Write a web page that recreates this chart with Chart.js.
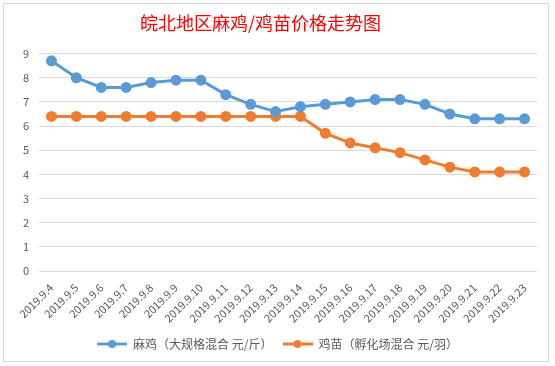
<!DOCTYPE html>
<html>
<head>
<meta charset="utf-8">
<script src="https://cdn.jsdelivr.net/npm/chart.js"></script>
<style>
  html, body { margin: 0; padding: 0; background: #ffffff; }
  #wrap { position: absolute; left: 0; top: 0; width: 555px; height: 366px; }
</style>
</head>
<body>
<div id="wrap"><canvas id="myChart" width="555" height="366"></canvas></div>
<script>
let labels = ['2019.9.4','2019.9.5','2019.9.6','2019.9.7','2019.9.8','2019.9.9','2019.9.10',
  '2019.9.11','2019.9.12','2019.9.13','2019.9.14','2019.9.15','2019.9.16','2019.9.17',
  '2019.9.18','2019.9.19','2019.9.20','2019.9.21','2019.9.22','2019.9.23'];
let maji = [8.7,8.0,7.6,7.6,7.8,7.9,7.9,7.3,6.9,6.6,6.8,6.9,7.0,7.1,7.1,6.9,6.5,6.3,6.3,6.3];
let jimiao = [6.4,6.4,6.4,6.4,6.4,6.4,6.4,6.4,6.4,6.4,6.4,5.7,5.3,5.1,4.9,4.6,4.3,4.1,4.1,4.1];
let seriesNames = ['麻鸡（大规格混合 元/斤）','鸡苗（孵化场混合 元/羽）'];
let colorHex = ['#5B9BD5','#ED7D31'];

const CJK = '"Noto Sans CJK SC", "Noto Sans", sans-serif';

// little line + dot marker for the legend
function legendMark(color) {
  let c = document.createElement('canvas');
  c.width = 30; c.height = 10;
  let g = c.getContext('2d');
  g.strokeStyle = color; g.lineWidth = 3;
  g.beginPath(); g.moveTo(0, 5); g.lineTo(30, 5); g.stroke();
  g.fillStyle = color;
  g.beginPath(); g.arc(15, 5, 4, 0, Math.PI * 2); g.fill();
  return c;
}

const frame = {
  id: 'frame',
  afterLayout(chart) {
    // title sits a bit left of centre in the original, legend a bit right
    if (chart.titleBlock) {
      chart.titleBlock.left -= 8;
      chart.titleBlock.right -= 8;
    }
    if (chart.legend) {
      chart.legend.left += 9;
      chart.legend.right += 9;
    }
  },
  beforeDraw(chart) {
    let g = chart.ctx;
    g.save();
    g.fillStyle = '#ffffff';
    g.fillRect(0, 0, chart.width, chart.height);
    g.strokeStyle = '#d9d9d9';
    g.lineWidth = 1;
    g.strokeRect(3.5, 3.5, 545, 358);
    g.restore();
  }
};

let ctx = document.getElementById('myChart').getContext('2d');
let myChart = new Chart(ctx, {
  type: 'line',
  data: {
    labels: labels,
    datasets: [
      {
        label: seriesNames[0],
        data: maji,
        borderColor: colorHex[0],
        backgroundColor: colorHex[0],
        borderWidth: 3,
        pointRadius: 4,
        pointHoverRadius: 4,
        tension: 0
      },
      {
        label: seriesNames[1],
        data: jimiao,
        borderColor: colorHex[1],
        backgroundColor: colorHex[1],
        borderWidth: 3,
        pointRadius: 4,
        pointHoverRadius: 4,
        tension: 0
      }
    ]
  },
  options: {
    responsive: false,
    animation: false,
    layout: { padding: { left: 0, right: 18, top: 0, bottom: 6 } },
    scales: {
      x: {
        offset: true,
        afterFit: (s) => { s.height = 57; },
        grid: { display: false },
        border: { display: false },
        ticks: {
          color: '#595959',
          font: { family: CJK, size: 11 },
          minRotation: 45,
          maxRotation: 45,
          autoSkip: false,
          padding: 2
        }
      },
      y: {
        min: 0,
        max: 9,
        afterFit: (s) => { s.width = 39; },
        grid: { color: '#d9d9d9', drawTicks: false, lineWidth: 1 },
        border: { display: false },
        ticks: {
          stepSize: 1,
          color: '#595959',
          font: { family: CJK, size: 11 },
          padding: 10
        }
      }
    },
    plugins: {
      title: {
        display: true,
        text: '皖北地区麻鸡/鸡苗价格走势图',
        color: '#ff0000',
        font: { family: CJK, size: 18, weight: 'normal' },
        padding: { top: 12, bottom: 20 }
      },
      legend: {
        position: 'bottom',
        labels: {
          color: '#595959',
          font: { family: CJK, size: 12 },
          usePointStyle: true,
          pointStyleWidth: 30,
          padding: 10,
          generateLabels: (chart) => chart.data.datasets.map((d, i) => ({
            text: d.label,
            fontColor: '#595959',
            pointStyle: legendMark(colorHex[i]),
            strokeStyle: colorHex[i],
            fillStyle: colorHex[i],
            lineWidth: 0,
            datasetIndex: i
          }))
        }
      },
      tooltip: { enabled: false }
    }
  },
  plugins: [frame]
});
</script>
</body>
</html>
